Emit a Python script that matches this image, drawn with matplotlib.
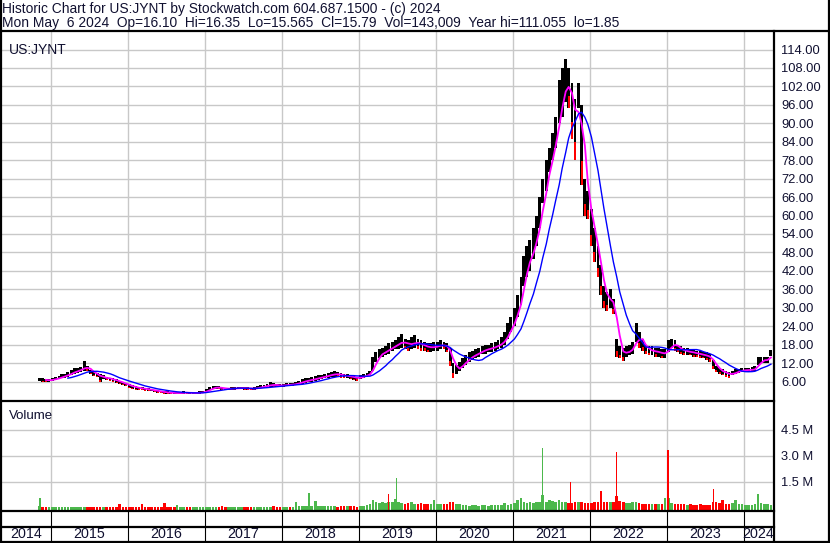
"""
    Historic price / volume chart for US:JYNT (Stockwatch style)
"""
#==============================================================================
#                   Modules
#==============================================================================
import numpy as np
import pandas as pd
import matplotlib
matplotlib.use('Agg')
import matplotlib.pyplot as plt
from matplotlib import transforms

plt.rcParams['font.family'] = ['Liberation Sans', 'DejaVu Sans']

#==============================================================================
#                  Data (half-month high / low)
#==============================================================================
periods = pd.date_range('2014-11-01', '2024-05-01', freq='SMS')

lo_2014 = [6.3, 6.0, 5.9, 6.0]
hi_2014 = [7.3, 7.0, 6.8, 6.9]
lo_2015 = [6.2, 6.5, 6.8, 7.0, 7.3, 7.6, 8.0, 8.6, 8.8, 9.2, 9.5, 9.5,
           8.3, 7.8, 7.4, 5.8, 6.8, 6.5, 6.2, 5.9, 5.6, 5.2, 4.8, 4.4]
hi_2015 = [7.2, 7.5, 7.8, 8.3, 8.6, 9.2, 9.8, 10.3, 10.3, 10.8, 12.8, 11.0,
           9.8, 9.2, 8.8, 8.4, 8.0, 7.6, 7.3, 7.0, 6.7, 6.3, 5.9, 5.5]
lo_2016 = [3.9, 3.6, 3.4, 3.3, 3.2, 3.0, 2.9, 2.8, 2.6, 2.4, 2.2, 2.0,
           2.0, 1.9, 1.85, 1.9, 2.0, 2.0, 2.0, 1.9, 2.0, 2.0, 2.1, 2.2]
hi_2016 = [5.2, 4.8, 4.5, 4.3, 4.2, 4.0, 3.8, 3.6, 3.4, 3.2, 3.0, 2.9,
           2.8, 2.7, 2.6, 2.6, 2.7, 2.8, 2.7, 2.6, 2.6, 2.6, 2.8, 2.9]
lo_2017 = [2.6, 3.2, 3.5, 3.6, 3.5, 3.4, 3.3, 3.3, 3.4, 3.4, 3.5, 3.5,
           3.4, 3.3, 3.3, 3.4, 3.6, 3.8, 4.0, 4.1, 4.3, 4.3, 4.2, 4.2]
hi_2017 = [3.6, 4.3, 4.6, 4.7, 4.4, 4.2, 4.0, 4.0, 4.1, 4.1, 4.2, 4.3,
           4.2, 4.1, 4.0, 4.1, 4.5, 4.8, 5.0, 5.2, 5.9, 5.5, 5.2, 5.1]
lo_2018 = [4.3, 4.5, 4.5, 4.6, 4.8, 5.0, 5.3, 5.6, 5.8, 6.0, 6.3, 6.5,
           6.8, 7.0, 7.2, 7.5, 7.6, 7.5, 7.2, 7.0, 7.0, 6.8, 6.5, 6.3]
hi_2018 = [5.3, 5.5, 5.4, 5.5, 5.9, 6.3, 6.8, 7.0, 7.2, 7.4, 7.8, 8.0,
           8.2, 8.5, 8.9, 9.2, 9.4, 9.2, 8.8, 8.5, 8.6, 8.2, 7.9, 7.6]
lo_2019 = [6.8, 7.2, 7.5, 8.0, 9.5, 12.5, 13.5, 14.0, 14.5, 15.0, 16.0, 16.5,
           16.5, 17.0, 16.5, 16.0, 16.5, 17.0, 16.5, 16.0, 16.0, 15.5, 15.5, 16.0]
hi_2019 = [8.2, 8.6, 8.9, 9.5, 14.0, 15.5, 16.5, 17.0, 17.5, 18.5, 19.0, 19.5,
           20.5, 21.5, 20.0, 19.5, 20.5, 21.0, 20.0, 19.5, 19.0, 18.5, 18.5, 19.0]
lo_2020 = [16.0, 16.5, 16.5, 15.5, 11.0, 7.3, 8.5, 9.5, 10.5, 11.5, 12.5, 13.0,
           13.5, 14.0, 15.0, 15.0, 15.5, 15.5, 16.0, 16.5, 17.0, 18.0, 20.0, 22.0]
hi_2020 = [19.0, 19.5, 19.0, 18.5, 17.0, 12.0, 11.5, 12.5, 13.5, 14.5, 15.5, 16.0,
           16.5, 17.0, 17.5, 18.0, 18.0, 18.5, 19.0, 19.5, 20.5, 22.0, 25.0, 27.0]
lo_2021 = [24, 27, 31, 37, 40, 42, 46, 50, 56, 64, 68, 74,
           78, 82, 90, 92, 97, 95, 85, 78, 95, 70, 60, 59]
hi_2021 = [30, 34, 40, 47, 50, 52, 56, 60, 66, 72, 78, 82,
           87, 92, 104, 108, 111, 108, 103, 98, 103, 96, 72, 68]
lo_2022 = [50, 45, 40, 34, 30, 29, 30, 28, 14, 13.5, 12.8, 14,
           14.5, 15, 19, 17, 16, 15, 14.5, 14.5, 14, 14, 13.5, 13.5]
hi_2022 = [62, 56, 50, 44, 37, 35, 36, 33, 20, 17.5, 17, 17.5,
           18, 19, 25, 22, 20, 18, 17.5, 17.5, 17, 17, 16.5, 16.5]
lo_2023 = [15.5, 17, 16, 15.5, 15, 14.5, 14.5, 14.5, 14, 14, 13.5, 13.5,
           13, 12.5, 10, 9, 8.5, 8, 7.5, 7.3, 8, 8.5, 8.8, 9]
hi_2023 = [19.5, 20, 19.5, 18, 17.5, 17, 17, 16.5, 16.5, 16, 16, 15.5,
           15.5, 15, 13, 11, 10.5, 10, 9.5, 9, 9.5, 10, 10.2, 10.5]
lo_2024 = [9, 9, 9, 9.3, 11.5, 12, 12, 12, 14.4]
hi_2024 = [10.5, 10.5, 10.8, 11, 14, 14, 14, 14, 16.4]

# half-month volume (millions of shares)
vol_2014 = [0.08, 0.05, 0.03, 0.03]
vol_2015 = [0.03, 0.02, 0.03, 0.02, 0.02, 0.03, 0.03, 0.02, 0.03, 0.04, 0.05, 0.03,
            0.03, 0.02, 0.04, 0.03, 0.02, 0.03, 0.03, 0.02, 0.05, 0.20, 0.04, 0.03]
vol_2016 = [0.04, 0.03, 0.03, 0.04, 0.20, 0.03, 0.02, 0.03, 0.02, 0.03, 0.04, 0.27,
            0.03, 0.04, 0.05, 0.15, 0.03, 0.04, 0.05, 0.03, 0.04, 0.06, 0.05, 0.04]
vol_2017 = [0.05, 0.04, 0.06, 0.05, 0.04, 0.10, 0.04, 0.05, 0.04, 0.05, 0.04, 0.05,
            0.04, 0.03, 0.04, 0.05, 0.04, 0.05, 0.04, 0.05, 0.05, 0.10, 0.06, 0.05]
vol_2018 = [0.05, 0.06, 0.05, 0.06, 0.35, 0.08, 0.07, 0.10, 0.12, 0.08, 0.36, 0.09,
            0.07, 0.08, 0.09, 0.08, 0.07, 0.06, 0.07, 0.12, 0.08, 0.07, 0.08, 0.06]
vol_2019 = [0.10, 0.12, 0.15, 0.20, 0.42, 0.30, 0.25, 0.30, 0.28, 0.35, 0.30, 0.50,
            0.30, 0.25, 0.22, 0.25, 0.30, 0.22, 0.20, 0.25, 0.18, 0.20, 0.22, 0.42]
vol_2020 = [0.20, 0.18, 0.20, 0.22, 0.35, 0.30, 0.20, 0.18, 0.15, 0.15, 0.12, 0.15,
            0.14, 0.12, 0.15, 0.13, 0.12, 0.14, 0.15, 0.13, 0.15, 0.27, 0.15, 0.20]
vol_2021 = [0.25, 0.42, 0.56, 0.30, 0.25, 0.30, 0.28, 0.32, 0.30, 0.73, 0.35, 0.42,
            0.40, 0.35, 0.42, 0.30, 0.30, 0.25, 0.28, 0.30, 0.35, 0.30, 0.28, 0.25]
vol_2022 = [0.28, 0.30, 0.35, 0.65, 0.30, 0.30, 0.35, 0.30, 0.69, 0.40, 0.30, 0.28,
            0.25, 0.30, 0.30, 0.25, 0.22, 0.20, 0.20, 0.22, 0.20, 0.20, 0.22, 0.56]
vol_2023 = [0.56, 0.25, 0.20, 0.18, 0.20, 0.18, 0.15, 0.18, 0.16, 0.15, 0.18, 0.15,
            0.14, 0.15, 0.35, 0.30, 0.25, 0.42, 0.20, 0.22, 0.25, 0.42, 0.20, 0.18]
vol_2024 = [0.15, 0.16, 0.15, 0.18, 0.30, 0.25, 0.20, 0.18, 0.17]

# single-day volume spikes
spike_dates = ['2014-11-10', '2018-05-08', '2019-05-22', '2019-06-27', '2021-05-21',
               '2021-09-30', '2022-02-22', '2022-05-06', '2023-01-05', '2023-08-10',
               '2024-03-08']
spike_vols = [0.56, 0.85, 0.80, 1.72, 3.42, 1.45, 0.94, 3.19, 3.30, 1.06, 0.78]
spike_up = [True, True, False, True, True, False, False, False, False, False, True]

years = list(range(2014, 2025))
price_ticks = list(range(6, 115, 6))
vol_ticks = [1.5, 3.0, 4.5]

header1 = 'Historic Chart for US:JYNT by Stockwatch.com 604.687.1500 - (c) 2024'
header2 = ('Mon May  6 2024  Op=16.10  Hi=16.35  Lo=15.565  Cl=15.79  '
           'Vol=143,009  Year hi=111.055  lo=1.85')

#==============================================================================
lo = np.array(lo_2014 + lo_2015 + lo_2016 + lo_2017 + lo_2018 + lo_2019 +
              lo_2020 + lo_2021 + lo_2022 + lo_2023 + lo_2024, dtype=float)
hi = np.array(hi_2014 + hi_2015 + hi_2016 + hi_2017 + hi_2018 + hi_2019 +
              hi_2020 + hi_2021 + hi_2022 + hi_2023 + hi_2024, dtype=float)
vol = np.array(vol_2014 + vol_2015 + vol_2016 + vol_2017 + vol_2018 + vol_2019 +
               vol_2020 + vol_2021 + vol_2022 + vol_2023 + vol_2024, dtype=float)
assert len(lo) == len(hi) == len(vol) == len(periods)


def to_year(d):
    days = np.where(d.is_leap_year, 366.0, 365.0)
    return d.year + (d.dayofyear - 1) / days


t = to_year(periods) + 7.0 / 365
mid = pd.Series((hi + lo) / 2)
ma_fast = mid.rolling(3).mean()
ma_slow = mid.rolling(10).mean()
down = np.r_[False, np.diff(mid.values) < 0]

ts = to_year(pd.to_datetime(spike_dates))

#==============================================================================
#                  Figure
#==============================================================================
W, H = 830, 543
fig = plt.figure(figsize=(W / 100, H / 100), dpi=100)
fig.patch.set_facecolor('white')


def fbox(x0, y0, x1, y1):
    return [x0 / W, 1 - y1 / H, (x1 - x0) / W, (y1 - y0) / H]


xlim = (2014.364, 2024.377)
grid_c = '#c8c8c8'
txt_c = '#101030'
bw = 0.9 / 24

# price panel
ax_p = fig.add_axes(fbox(2, 32, 773, 400))
ax_p.set_xlim(*xlim)
ax_p.set_ylim(0, 119.7)
for y in price_ticks:
    ax_p.axhline(y, color=grid_c, lw=1, zorder=0)
for yr in years:
    ax_p.axvline(yr, color=grid_c, lw=1, zorder=0)
ax_p.bar(t, hi - lo, bottom=lo, width=bw, color='black', lw=0, zorder=2)
ax_p.bar(t[down], (hi - lo)[down] * 0.3, bottom=lo[down], width=bw * 0.7,
         color='red', lw=0, zorder=3)
ax_p.plot(t, ma_fast, color='magenta', lw=1.3, zorder=4)
ax_p.plot(t, ma_slow, color='blue', lw=1.0, zorder=5)
ax_p.yaxis.tick_right()
ax_p.set_yticks(price_ticks)
ax_p.set_yticklabels(['%.2f' % v for v in price_ticks], color=txt_c, fontsize=9.3)
ax_p.tick_params(axis='y', length=0, pad=6)
ax_p.set_xticks([])
for s in ax_p.spines.values():
    s.set_visible(False)
ax_p.text(0.009, 0.97, 'US:JYNT', transform=ax_p.transAxes, fontsize=10,
          color=txt_c, va='top', ha='left')

# volume panel
vbase = 0.14
ax_v = fig.add_axes(fbox(2, 402, 773, 510))
ax_v.set_xlim(*xlim)
ax_v.set_ylim(-vbase, 6.1)
for y in vol_ticks:
    ax_v.axhline(y, color=grid_c, lw=1, zorder=0)
for yr in years:
    ax_v.axvline(yr, color=grid_c, lw=1, zorder=0)
vcol = np.where(down, '#ff0000', '#4cb84c')
ax_v.bar(t, vol + vbase, bottom=-vbase, width=0.8 / 24, color=vcol, lw=0, zorder=2)
scol = ['#4cb84c' if u else '#ff0000' for u in spike_up]
ax_v.bar(ts, np.array(spike_vols) + vbase, bottom=-vbase, width=1.5 / 77,
         color=scol, lw=0, zorder=3)
ax_v.yaxis.tick_right()
ax_v.set_yticks(vol_ticks)
ax_v.set_yticklabels(['%.1f M' % v for v in vol_ticks], color=txt_c, fontsize=9.3)
ax_v.tick_params(axis='y', length=0, pad=6)
ax_v.set_xticks([])
for s in ax_v.spines.values():
    s.set_visible(False)
ax_v.text(0.009, 0.93, 'Volume', transform=ax_v.transAxes, fontsize=9.5,
          color=txt_c, va='top', ha='left')

# frame lines, header and year row (pixel overlay)
ax_o = fig.add_axes([0, 0, 1, 1], zorder=10)
ax_o.set_xlim(0, W)
ax_o.set_ylim(H, 0)
ax_o.axis('off')
ax_o.patch.set_alpha(0)
lw_b = 1.6
ax_o.plot([0, W], [31, 31], color='black', lw=lw_b)
ax_o.plot([774, 774], [31, 542], color='black', lw=lw_b)
ax_o.plot([0, 774], [401, 401], color='black', lw=lw_b)
ax_o.plot([0, 774], [510.5, 510.5], color='black', lw=lw_b)
ax_o.plot([0, 774], [526.5, 526.5], color='black', lw=lw_b)
ax_o.plot([0, W], [541.5, 541.5], color='black', lw=lw_b)
ax_o.plot([0.8, 0.8], [0, H], color='black', lw=lw_b)
ax_o.plot([829, 829], [0, H], color='black', lw=lw_b)

ax_o.text(2, 9, header1, fontsize=9.9, color=txt_c, va='center', ha='left')
ax_o.text(2, 23, header2, fontsize=9.9, color=txt_c, va='center', ha='left')

# year boundaries and labels under the volume panel
blend = transforms.blended_transform_factory(ax_p.transData, ax_o.transData)
for yr in years[1:]:
    ax_o.plot([yr, yr], [511, 541], color='black', lw=0.8, transform=blend)
for yr in years:
    a, b = max(yr, xlim[0]), min(yr + 1, xlim[1])
    ax_o.text((a + b) / 2, 534, str(yr), fontsize=10.3, color=txt_c,
              ha='center', va='center', transform=blend)

plt.savefig('out.png', dpi=100)
